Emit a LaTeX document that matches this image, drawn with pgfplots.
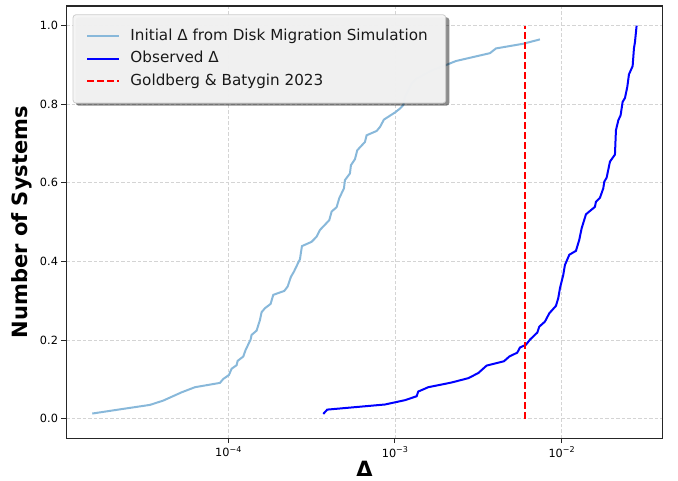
\documentclass[border=0pt]{standalone}
\usepackage{fontspec}
\setmainfont{DejaVu Sans}
\usepackage{pgfplots}
\pgfplotsset{compat=1.18}

\definecolor{simblue}{RGB}{136,184,218}
\definecolor{gridgray}{RGB}{212,212,212}
\definecolor{legfill}{RGB}{245,245,245}
\definecolor{legedge}{RGB}{205,205,205}

% power-of-ten tick label
\newcommand\decade[1]{10{\fontsize{8}{9}\selectfont\raisebox{4.5pt}{−#1}}}
\newcommand\legfont{\fontsize{15.2}{17}\selectfont}
\newcommand\legpad{\rule{5pt}{0pt}}
% width of the legend box, from its longest entry
\newlength\legtextw
\settowidth{\legtextw}{\legfont Initial Δ from Disk Migration Simulation\legpad}
\newlength\legw
\setlength\legw{\dimexpr\legtextw+71.4pt\relax}

\begin{document}
\begin{tikzpicture}[x=1pt,y=1pt]
\useasboundingbox (0,0) rectangle (678,480);
\begin{axis}[
  at={(66.3pt,41.7pt)}, anchor=south west,
  scale only axis, width=596.4pt, height=432.3pt,
  xmode=log, log basis x=10,
  xmin=1.067e-5, xmax=0.0404,
  ymin=-0.05, ymax=1.05,
  xtick={1e-4,1e-3,1e-2},
  xticklabels={\decade{4},\decade{3},\decade{2}},
  ytick={0,0.2,0.4,0.6,0.8,1.0},
  yticklabel style={/pgf/number format/.cd, fixed, fixed zerofill, precision=1},
  /pgf/number format/assume math mode=true,
  ticklabel style={font=\fontsize{11.3}{13}\selectfont},
  tick align=outside, xtick pos=lower, ytick pos=left,
  major tick length=4.8pt, minor tick length=2.8pt,
  every tick/.style={black!85, line width=0.9pt},
  axis line style={black!85, line width=1.1pt},
  grid=major,
  major grid style={gridgray, line width=0.8pt, dash pattern=on 3.5pt off 2pt},
  xlabel={\textbf{Δ}},
  ylabel={\textbf{Number of Systems}},
  label style={font=\fontsize{21}{24}\selectfont},
  xlabel style={at={(axis description cs:0.5,-0.070)}, anchor=center, inner sep=0pt},
  ylabel style={at={(axis description cs:-0.0743,0.5)}, anchor=center},
  legend cell align=left,
  legend image code/.code={\draw[#1] (0pt,0pt) -- (32pt,0pt);},
  legend style={
    at={(0.0107,0.9808)}, anchor=north west,
    font=\legfont, text=black!90,
    fill=legfill, fill opacity=0.96, text opacity=1,
    draw=legedge, line width=0.8pt, rounded corners=3pt,
    inner xsep=13pt, inner ysep=13.7pt,
    row sep=6.5pt, column sep=10.4pt,
    nodes={inner sep=0pt, text height=12pt, text depth=4pt},
  },
]

% cumulative fraction of simulated systems
\addplot[simblue, line width=2pt] coordinates {
(1.528e-5,0.013) (2.188e-5,0.023) (3.388e-5,0.035) (4.074e-5,0.046)
(5.248e-5,0.067) (6.310e-5,0.080) (8.913e-5,0.091) (9.333e-5,0.101)
(1.009e-4,0.111) (1.047e-4,0.127) (1.122e-4,0.136) (1.138e-4,0.147)
(1.230e-4,0.158) (1.271e-4,0.175) (1.361e-4,0.201) (1.380e-4,0.213)
(1.479e-4,0.224) (1.549e-4,0.251) (1.585e-4,0.271) (1.660e-4,0.281)
(1.795e-4,0.292) (1.862e-4,0.315) (2.168e-4,0.325) (2.270e-4,0.336)
(2.377e-4,0.361) (2.477e-4,0.374) (2.692e-4,0.406) (2.767e-4,0.439)
(3.162e-4,0.450) (3.388e-4,0.463) (3.548e-4,0.480) (4.036e-4,0.505)
(4.169e-4,0.527) (4.467e-4,0.538) (4.634e-4,0.561) (4.943e-4,0.586)
(5.012e-4,0.607) (5.370e-4,0.624) (5.445e-4,0.645) (5.754e-4,0.660)
(5.943e-4,0.683) (6.607e-4,0.704) (6.761e-4,0.721) (7.762e-4,0.732)
(8.128e-4,0.742) (8.590e-4,0.761) (1.000e-3,0.779) (1.072e-3,0.789)
(1.122e-3,0.798) (1.148e-3,0.819) (1.259e-3,0.853) (1.349e-3,0.865)
(1.660e-3,0.886) (1.950e-3,0.897) (2.323e-3,0.910) (3.715e-3,0.930)
(4.036e-3,0.942) (5.888e-3,0.954) (7.413e-3,0.965)
};
\addlegendentry{Initial Δ from Disk Migration Simulation\legpad}

% cumulative fraction of observed systems
\addplot[blue, line width=2pt] coordinates {
(3.715e-4,0.012) (3.926e-4,0.023) (8.710e-4,0.036) (1.148e-3,0.047)
(1.349e-3,0.057) (1.380e-3,0.069) (1.585e-3,0.080) (2.188e-3,0.092)
(2.754e-3,0.103) (3.162e-3,0.116) (3.548e-3,0.135) (4.508e-3,0.146)
(4.853e-3,0.158) (5.420e-3,0.168) (5.623e-3,0.181) (6.109e-3,0.188)
(6.457e-3,0.201) (7.145e-3,0.219) (7.345e-3,0.234) (7.943e-3,0.247)
(8.433e-3,0.268) (9.247e-3,0.287) (9.550e-3,0.307) (9.772e-3,0.332)
(1.023e-2,0.366) (1.047e-2,0.391) (1.112e-2,0.417) (1.219e-2,0.427)
(1.276e-2,0.455) (1.318e-2,0.484) (1.400e-2,0.520) (1.585e-2,0.539)
(1.607e-2,0.552) (1.698e-2,0.562) (1.778e-2,0.586) (1.803e-2,0.603)
(1.862e-2,0.613) (1.950e-2,0.654) (2.089e-2,0.672) (2.118e-2,0.734)
(2.188e-2,0.759) (2.259e-2,0.772) (2.323e-2,0.806) (2.399e-2,0.816)
(2.477e-2,0.844) (2.535e-2,0.876) (2.667e-2,0.897) (2.716e-2,0.942)
(2.754e-2,0.958) (2.818e-2,1.000)
};
\addlegendentry{Observed Δ}

% theoretical threshold
\addplot[red, line width=1.9pt, dash pattern=on 7pt off 3pt] coordinates {
(0.006,0) (0.006,1)
};
\addlegendentry{Goldberg \& Batygin 2023}

% soft shadow under the legend box
\fill[black, opacity=0.45, rounded corners=3pt]
  ([xshift=3pt,yshift=-3pt]rel axis cs:0.0107,0.9808) rectangle ++(\legw,-88.4pt);

\end{axis}
\end{tikzpicture}
\end{document}
